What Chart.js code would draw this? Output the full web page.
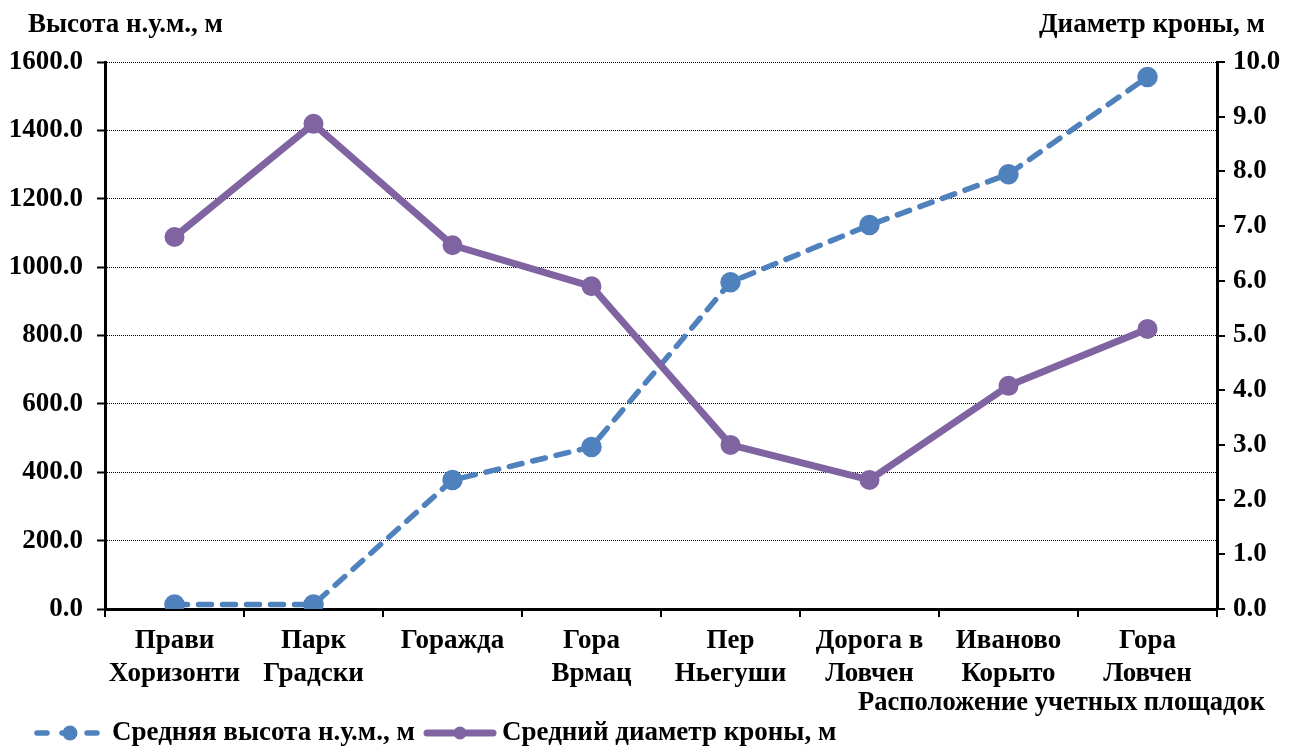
<!DOCTYPE html>
<html><head><meta charset="utf-8">
<script src="https://cdn.jsdelivr.net/npm/chart.js@4"></script>
<style>html,body{margin:0;padding:0;background:#fff;}#wrap{width:1290px;height:747px;position:relative;}</style>
</head><body><div id="wrap"><canvas id="c" width="1290" height="747"></canvas></div>
<script>
const categories = [["Прави","Хоризонти"],["Парк","Градски"],["Горажда"],["Гора","Врмац"],["Пер","Ньегуши"],["Дорога в","Ловчен"],["Иваново","Корыто"],["Гора","Ловчен"]];
const heightValues = [13, 13, 377, 474, 956, 1123, 1272, 1556];
const crownValues = [6.80, 8.87, 6.65, 5.90, 3.00, 2.36, 4.08, 5.12];
const heightLabel = "Средняя высота н.у.м., м";
const crownLabel = "Средний диаметр кроны, м";
const leftTitle = "Высота н.у.м., м";
const rightTitle = "Диаметр кроны, м";
const xTitle = "Расположение учетных площадок";

const FONT = "'Liberation Serif','Times New Roman',serif";
const FS = 27;
const BLUE = "#4F81BD", PURPLE = "#8064A2";

const textPlugin = {
  id: 'texts',
  afterDraw(chart) {
    const ctx = chart.ctx;
    ctx.save();
    ctx.fillStyle = '#000';
    ctx.font = `bold ${FS}px ${FONT}`;
    ctx.textBaseline = 'middle';
    ctx.textAlign = 'left';
    ctx.fillText(leftTitle, 28, 25);
    ctx.textAlign = 'right';
    ctx.fillText(rightTitle, 1265, 25);
    ctx.fillText(xTitle, 1265, 703, 407);
    // legend
    const items = [
      {ds: chart.data.datasets[0], x: 37},
      {ds: chart.data.datasets[1], x: 427}
    ];
    const y = 733;
    items.forEach(it => {
      const ds = it.ds;
      ctx.save();
      ctx.strokeStyle = ds.borderColor;
      ctx.lineWidth = ds.borderWidth;
      ctx.lineCap = 'round';
      ctx.setLineDash(ds.borderDash ? [10, 15] : []);
      ctx.beginPath();
      ctx.moveTo(it.x, y);
      ctx.lineTo(it.x + 66, y);
      ctx.stroke();
      ctx.setLineDash([]);
      ctx.fillStyle = ds.pointBackgroundColor;
      ctx.beginPath();
      ctx.arc(it.x + 33, y, ds.pointRadius, 0, Math.PI * 2);
      ctx.fill();
      ctx.restore();
      ctx.textAlign = 'left';
      ctx.fillStyle = '#000';
      ctx.fillText(ds.label, it.x + 75, y);
    });
    ctx.restore();
  }
};

new Chart(document.getElementById('c'), {
  type: 'line',
  data: {
    labels: categories,
    datasets: [
      {label: heightLabel, data: heightValues, yAxisID: 'y', borderColor: BLUE, backgroundColor: BLUE,
       pointBackgroundColor: BLUE, pointBorderColor: BLUE, borderWidth: 5.5, borderDash: [13, 11], borderCapStyle: 'round',
       pointRadius: 7.5, pointHoverRadius: 7.5, order: 2, tension: 0, fill: false},
      {label: crownLabel, data: crownValues, yAxisID: 'y2', borderColor: PURPLE, backgroundColor: PURPLE,
       pointBackgroundColor: PURPLE, pointBorderColor: PURPLE, borderWidth: 7, borderCapStyle: 'round', borderJoinStyle: 'round',
       pointRadius: 6.5, pointHoverRadius: 6.5, order: 1, tension: 0, fill: false}
    ]
  },
  options: {
    responsive: false, animation: false, devicePixelRatio: 1,
    layout: {padding: {top: 62, left: 0, right: 0, bottom: 0}},
    plugins: {legend: {display: false}, tooltip: {enabled: false}},
    scales: {
      x: {
        offset: true,
        grid: {offset: true, drawOnChartArea: false, color: '#000', tickLength: 8, lineWidth: 2},
        border: {color: '#000', width: 3},
        ticks: {color: '#000', font: {family: FONT, size: FS, weight: 'bold'}, padding: 8, maxRotation: 0, autoSkip: false},
        afterFit(s) { s.height = 138; }
      },
      y: {
        position: 'left', min: 0, max: 1600,
        ticks: {stepSize: 200, color: '#000', font: {family: FONT, size: FS, weight: 'bold'}, padding: 14,
                callback: v => Number(v).toFixed(1)},
        grid: {color: '#000', lineWidth: 1, tickLength: 8, tickWidth: 2, tickColor: '#000'},
        border: {color: '#000', width: 3, dash: [1, 1]},
        afterFit(s) { s.width = 105; }
      },
      y2: {
        position: 'right', min: 0, max: 10,
        ticks: {stepSize: 1, color: '#000', font: {family: FONT, size: FS, weight: 'bold'}, padding: 8,
                callback: v => Number(v).toFixed(1)},
        grid: {drawOnChartArea: false, color: '#000', tickLength: 8, lineWidth: 2},
        border: {color: '#000', width: 3},
        afterFit(s) { s.width = 73; }
      }
    }
  },
  plugins: [textPlugin]
});
</script></body></html>
